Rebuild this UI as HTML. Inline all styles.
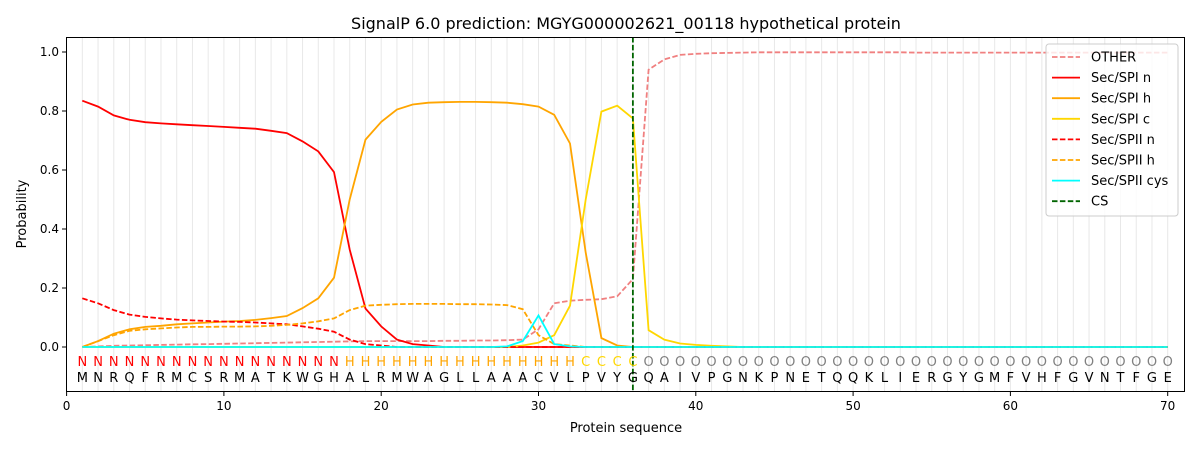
<!DOCTYPE html>
<html><head><meta charset="utf-8"><style>
body{margin:0;background:#fff;}
text{font-family:"DejaVu Sans","Liberation Sans",sans-serif;}
</style></head><body>
<svg id="s" width="1200" height="450" xmlns="http://www.w3.org/2000/svg"></svg>
<script>
const s=document.getElementById('s');
const X=v=>66.6+v*15.73, Y=p=>347-p*295;
let h='<rect width="1200" height="450" fill="#fff"/>';
h+='<text x="626" y="29" font-size="16" text-anchor="middle">SignalP 6.0 prediction: MGYG000002621_00118 hypothetical protein</text>';
for(let i=1;i<=70;i++)h+=`<line x1="${X(i)}" y1="37" x2="${X(i)}" y2="392" stroke="#e8e8e8" stroke-width="1"/>`;
function z(a,n){while(a.length<n)a.push(a[a.length-1]);return a;}
const zeros=n=>Array(n).fill(0);
const spn=z([.835,.815,.785,.77,.762,.758,.755,.752,.749,.746,.743,.74,.733,.725,.697,.663,.593,.33,.13,.07,.025,.01,.005,0],70);
const sph=z([0,.02,.045,.06,.068,.072,.077,.08,.083,.086,.088,.092,.098,.105,.132,.165,.235,.5,.703,.763,.805,.822,.828,.83,.831,.831,.83,.828,.823,.815,.787,.69,.32,.03,.005,0],70);
const spc=z(zeros(28).concat([.005,.015,.04,.14,.5,.798,.818,.775,.057,.025,.012,.007,.004,.002,0]),70);
const oth=z([0,.002,.004,.005,.006,.007,.008,.009,.01,.011,.012,.013,.014,.015,.016,.017,.018,.019,.02,.02,.02,.02,.02,.021,.021,.022,.022,.023,.025,.06,.148,.157,.16,.162,.172,.23,.94,.975,.99,.994,.996,.997,.998,.999,.999,.999,.999,.999,.999,.999,.999,.999,.999,.998,.998,.998,.998,.998,.998,.998,.998,.998,.998,.998,.998,.998,.998,.998,.998,.998],70);
const s2n=z([.165,.148,.125,.11,.102,.097,.093,.09,.088,.086,.085,.083,.08,.077,.07,.062,.052,.025,.01,.005,0],70);
const s2h=z([0,.02,.04,.055,.06,.063,.066,.068,.068,.069,.069,.07,.072,.075,.08,.087,.097,.125,.14,.143,.145,.146,.146,.146,.145,.145,.144,.142,.128,.04,.01,.005,0],70);
const cys=z(zeros(27).concat([.002,.02,.107,.01,.002,0]),70);
function line(d,c,dash){return `<polyline fill="none" stroke="${c}" stroke-width="1.8" ${dash?'stroke-dasharray="5.5,2.4"':''} points="${d.map((p,i)=>X(i+1).toFixed(1)+','+Y(p).toFixed(1)).join(' ')}"/>`;}
h+=line(oth,'#f08080',1)+line(spn,'#ff0000')+line(sph,'#ffa500')+line(spc,'#ffd700')+line(s2n,'#ff0000',1)+line(s2h,'#ffa500',1)+line(cys,'#00ffff');
h+=`<line x1="${X(36)}" y1="37" x2="${X(36)}" y2="392" stroke="#006400" stroke-width="1.8" stroke-dasharray="5.5,2.4"/>`;
const seq="MNRQFRMCSRMATKWGHALRMWAGLLAAACVLPVYGQAIVPGNKPNETQQKLIERGYGMFVHFGVNTFGE";
for(let i=1;i<=70;i++){let l,c;if(i<=17){l='N';c='#ff0000'}else if(i<=32){l='H';c='#ffa500'}else if(i<=36){l='C';c='#ffd700'}else{l='O';c='#808080'}
h+=`<text x="${X(i)}" y="366" font-size="13" fill="${c}" text-anchor="middle">${l}</text><text x="${X(i)}" y="382" font-size="13" text-anchor="middle">${seq[i-1]}</text>`;}
h+='<rect x="66.5" y="37.5" width="1118" height="354" fill="none" stroke="#000" stroke-width="1"/>';
for(let t=0;t<=70;t+=10){h+=`<line x1="${X(t)}" y1="392" x2="${X(t)}" y2="396" stroke="#000"/><text x="${X(t)}" y="410" font-size="12" text-anchor="middle">${t}</text>`;}
for(let k=0;k<=5;k++){const p=k*0.2;h+=`<line x1="62" y1="${Y(p)}" x2="66.5" y2="${Y(p)}" stroke="#000"/><text x="59" y="${Y(p)+4}" font-size="12" text-anchor="end">${p.toFixed(1)}</text>`;}
h+='<text x="626" y="432" font-size="13" text-anchor="middle">Protein sequence</text>';
h+='<text x="26" y="214" font-size="13" text-anchor="middle" transform="rotate(-90 26 214)">Probability</text>';
h+='<rect x="1046" y="44" width="132" height="172" rx="3" fill="#fff" fill-opacity="0.8" stroke="#ccc"/>';
const L=[['OTHER','#f08080',1],['Sec/SPI n','#ff0000'],['Sec/SPI h','#ffa500'],['Sec/SPI c','#ffd700'],['Sec/SPII n','#ff0000',1],['Sec/SPII h','#ffa500',1],['Sec/SPII cys','#00ffff'],['CS','#006400',1]];
L.forEach((e,i)=>{const y=57+i*20.6;h+=`<line x1="1052" y1="${y}" x2="1080" y2="${y}" stroke="${e[1]}" stroke-width="1.8" ${e[2]?'stroke-dasharray="5.5,2.4"':''}/><text x="1091" y="${y+4.5}" font-size="13">${e[0]}</text>`;});
s.innerHTML=h;
</script>
</body></html>
